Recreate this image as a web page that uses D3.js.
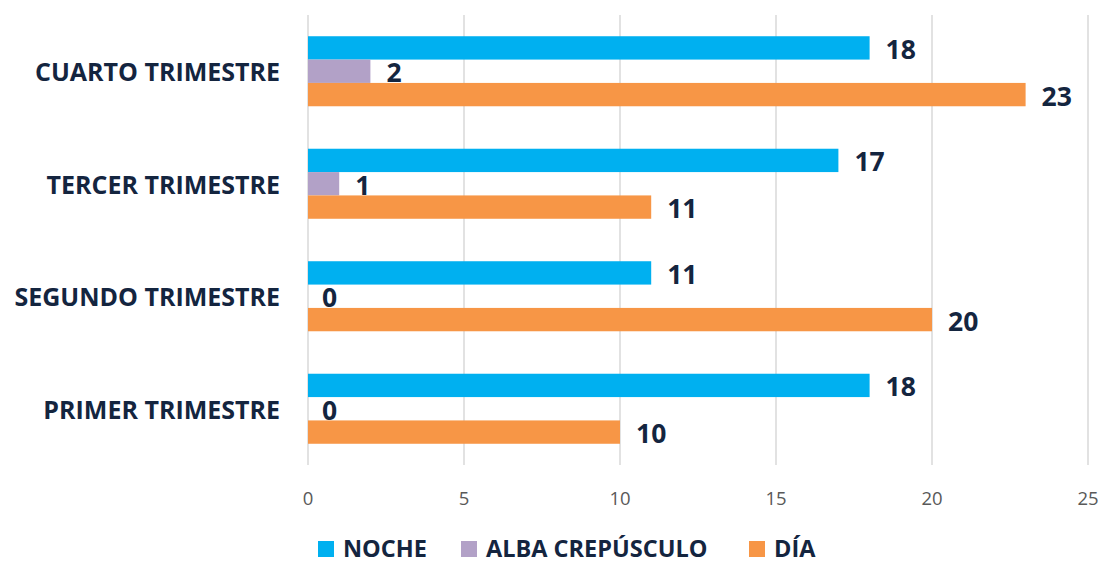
<!DOCTYPE html>
<html>
<head>
<meta charset="utf-8">
<script src="https://cdn.jsdelivr.net/npm/d3@7"></script>
<style>
  html, body { margin: 0; padding: 0; background: #fff; }
  svg { display: block; }
</style>
</head>
<body>
<svg id="chart" width="1102" height="564"></svg>
<script>
const categories = ["CUARTO TRIMESTRE", "TERCER TRIMESTRE", "SEGUNDO TRIMESTRE", "PRIMER TRIMESTRE"];
const seriesNames = ["NOCHE", "ALBA CREPÚSCULO", "DÍA"];
const noche = [18, 17, 11, 18];
const alba = [2, 1, 0, 0];
const dia = [23, 11, 20, 10];
const xTicks = [0, 5, 10, 15, 20, 25];
const colors = ["#00b0f0", "#b2a1c7", "#f79646"];

const seriesValues = [noche, alba, dia];
const navy = "#14253f";
const font = "'Open Sans', 'Noto Sans', sans-serif";

const svg = d3.select("#chart");
const x = d3.scaleLinear().domain([0, 25]).range([308, 1088]);
const y = d3.scaleBand().domain(categories).range([15, 465]).padding(0);
const sub = d3.scaleBand().domain(seriesNames).range([0, y.bandwidth()])
  .paddingInner(0).paddingOuter(0.91);

// gridlines
svg.append("g").selectAll("line").data(xTicks).join("line")
  .attr("x1", d => x(d)).attr("x2", d => x(d))
  .attr("y1", 15).attr("y2", 465)
  .attr("stroke", "#d9d9d9").attr("stroke-width", 1.5);

// tick labels
svg.append("g").selectAll("text").data(xTicks).join("text")
  .attr("x", d => x(d)).attr("y", 497)
  .attr("text-anchor", "middle").attr("dominant-baseline", "central")
  .attr("font-family", font).attr("font-size", 18.5).attr("fill", "#595959")
  .text(d => d);

// category labels
svg.append("g").selectAll("text").data(categories).join("text")
  .attr("x", 280).attr("y", d => y(d) + y.bandwidth() / 2)
  .attr("text-anchor", "end").attr("dominant-baseline", "central")
  .attr("font-family", font).attr("font-weight", 700).attr("font-size", 25)
  .attr("fill", navy).text(d => d);

// bars
const rows = [];
categories.forEach((c, i) => {
  seriesNames.forEach((s, j) => rows.push({ c, s, j, v: seriesValues[j][i] }));
});

svg.append("g").selectAll("rect").data(rows.filter(d => d.v > 0)).join("rect")
  .attr("x", x(0))
  .attr("y", d => y(d.c) + sub(d.s))
  .attr("width", d => x(d.v) - x(0))
  .attr("height", sub.bandwidth())
  .attr("fill", d => colors[d.j]);

svg.append("g").selectAll("text").data(rows).join("text")
  .attr("x", d => x(d.v) + (d.v > 0 ? 16 : 14))
  .attr("y", d => y(d.c) + sub(d.s) + sub.bandwidth() / 2 + 1)
  .attr("dominant-baseline", "central")
  .attr("font-family", font).attr("font-weight", 700).attr("font-size", 26.5)
  .attr("fill", navy).text(d => d.v);

// legend
const legendX = [318, 461, 749];
const lg = svg.append("g").selectAll("g").data(seriesNames).join("g")
  .attr("transform", (d, i) => `translate(${legendX[i]},549)`);
lg.append("rect").attr("x", 0).attr("y", -8).attr("width", 16).attr("height", 16)
  .attr("fill", (d, i) => colors[i]);
lg.append("text").attr("x", 25).attr("y", 8)
  .attr("font-family", font).attr("font-weight", 700).attr("font-size", 23.5)
  .attr("fill", navy).text(d => d);
</script>
</body>
</html>
